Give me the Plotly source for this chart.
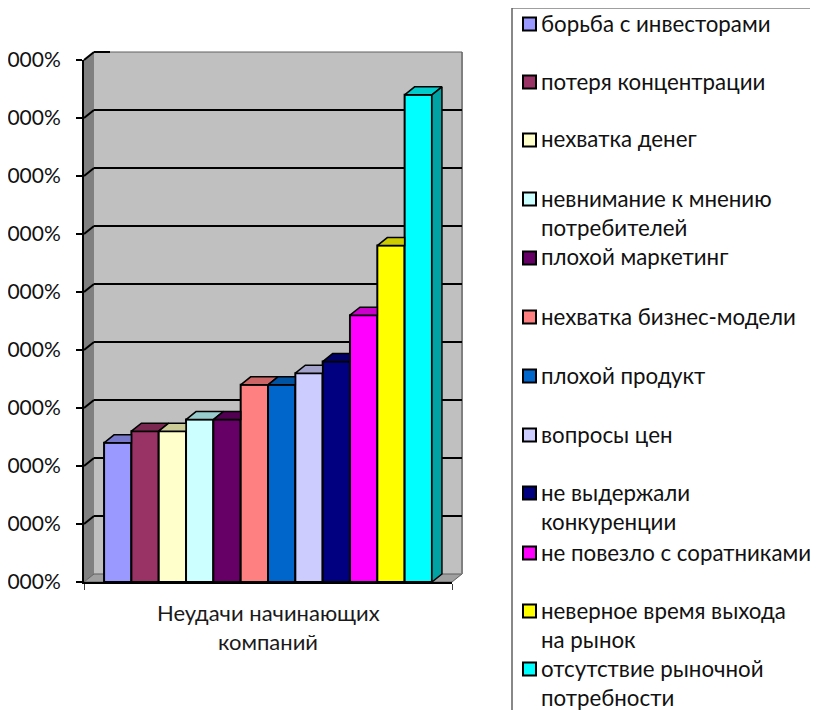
import plotly.graph_objects as go

categories = ['борьба с инвесторами', 'потеря концентрации', 'нехватка денег',
              'невнимание к мнению потребителей', 'плохой маркетинг', 'нехватка бизнес-модели',
              'плохой продукт', 'вопросы цен', 'не выдержали конкуренции',
              'не повезло с соратниками', 'неверное время выхода на рынок',
              'отсутствие рыночной потребности']
values = [12, 13, 13, 14, 14, 17, 17, 18, 19, 23, 29, 42]
colors = ['#9999FF', '#993366', '#FFFFCC', '#CCFFFF', '#660066', '#FF8080',
          '#0066CC', '#CCCCFF', '#000080', '#FF00FF', '#FFFF00', '#00FFFF']
top_colors = ['#7777CC', '#7A2850', '#CCCC99', '#99CCCC', '#520052', '#CC6666',
              '#0052A3', '#A3A3CC', '#000066', '#CC00CC', '#CCCC00', '#00CCCC']
tick_vals = [0, 5, 10, 15, 20, 25, 30, 35, 40, 45]
tick_text = ['000%'] * 10
x_title_lines = ['Неудачи начинающих', 'компаний']
# строки легенды и их положение по вертикали
legend_lines = [['борьба с инвесторами'], ['потеря концентрации'], ['нехватка денег'],
                ['невнимание к мнению', 'потребителей'], ['плохой маркетинг'],
                ['нехватка бизнес-модели'], ['плохой продукт'], ['вопросы цен'],
                ['не выдержали', 'конкуренции'], ['не повезло с соратниками'],
                ['неверное время выхода', 'на рынок'], ['отсутствие рыночной', 'потребности']]
legend_y = [24, 82, 140, 199, 258, 317, 376, 435, 493, 553, 611, 669]

FONT = 'Lato'
OFF = 8  # страница сдвигает график на 8 пикселей (отступ body)
W, H = 818 - OFF, 710 - OFF
L, R, T, B = 84, 452, 60, 582
DX, DY = 10, 8  # глубина "3D" в пикселях
bargap = 0.109

def px(x):
    return (x - L) / (R - L)

def py(y):
    return (B - y) / (B - T)

fig = go.Figure()

bar_w = (1 - bargap) / len(values)
x0 = -0.5 + bargap / 2
dx_u = DX / (R - L)
dy_u = DY * 45 / (B - T)

for name, val, col in zip(categories, values, colors):
    fig.add_trace(go.Bar(x=[0], y=[val], name=name, marker=dict(color=col, line=dict(color='black', width=2)),
                         showlegend=False))

# верх и бок столбиков
for i, val in enumerate(values):
    xl = x0 + i * bar_w
    xr = xl + bar_w
    nxt = values[i + 1] if i + 1 < len(values) else None
    if nxt is not None and nxt > val:
        xs = [xl, xl + dx_u, xr, xr, xl]
        ys = [val, val + dy_u, val + dy_u, val, val]
    else:
        xs = [xl, xl + dx_u, xr + dx_u, xr, xl]
        ys = [val, val + dy_u, val + dy_u, val, val]
    fig.add_trace(go.Scatter(x=xs, y=ys, mode='lines', fill='toself', fillcolor=top_colors[i],
                             line=dict(color='black', width=1.5), hoverinfo='skip', showlegend=False))
    if nxt is None:
        fig.add_trace(go.Scatter(x=[xr, xr + dx_u, xr + dx_u, xr, xr], y=[0, dy_u, val + dy_u, val, 0],
                                 mode='lines', fill='toself', fillcolor='#00A3A3',
                                 line=dict(color='black', width=1.5), hoverinfo='skip', showlegend=False))

shapes = []

def poly(pts, fill, line_col, lw):
    path = 'M ' + ' L '.join(f'{px(a):.5f} {py(b):.5f}' for a, b in pts) + ' Z'
    shapes.append(dict(type='path', xref='paper', yref='paper', path=path, fillcolor=fill,
                       line=dict(color=line_col, width=lw), layer='below'))

def seg(x1, y1, x2, y2, col, lw):
    shapes.append(dict(type='line', xref='paper', yref='paper', x0=px(x1), y0=py(y1), x1=px(x2), y1=py(y2),
                       line=dict(color=col, width=lw), layer='below'))

# стены и пол
poly([(L + DX, T - DY), (R + DX, T - DY), (R + DX, B - DY), (L + DX, B - DY)], '#C0C0C0', '#C0C0C0', 0)
poly([(L, B), (L + DX, B - DY), (L + DX, T - DY), (L, T)], '#808080', '#808080', 0)
poly([(L, B), (L + DX, B - DY), (R + DX, B - DY), (R, B)], '#A0A0A0', '#606060', 1)
seg(R + DX, T - DY, R + DX, B - DY, '#808080', 2)

for v in tick_vals:
    y = B - v * (B - T) / 45
    if v == 0:
        continue
    if v == 45:
        seg(L + DX, y - DY, R + DX, y - DY, '#606060', 1)
        seg(L + DX, y - DY, L + 26, y - DY, 'black', 2)
        seg(L, y, L + DX, y - DY, 'black', 2)
    else:
        seg(L + DX, y - DY, R + DX, y - DY, 'black', 2)
        seg(L, y, L + DX, y - DY, 'black', 2)

# рамка легенды: видны только верх и левый край
seg(512, 8, 818, 8, '#404040', 1)
seg(512, 8, 512, 710, '#606060', 1.5)

annotations = []
for i, y in enumerate(x_title_lines):
    annotations.append(dict(xref='paper', yref='paper', x=px(268), y=py(612 + i * 29), text=y, showarrow=False,
                            xanchor='center', yanchor='middle', font=dict(family=FONT, size=22, color='#1a1a1a')))

for lines, y, col in zip(legend_lines, legend_y, colors):
    shapes.append(dict(type='rect', xref='paper', yref='paper', x0=px(523), x1=px(536), y0=py(y + 6.5), y1=py(y - 6.5),
                       fillcolor=col, line=dict(color='black', width=2), layer='above'))
    for j, txt in enumerate(lines):
        annotations.append(dict(xref='paper', yref='paper', x=px(539), y=py(y - 1 + j * 29), text=txt, showarrow=False,
                                xanchor='left', yanchor='middle', font=dict(family=FONT, size=22.3, color='#111111')))

fig.update_layout(
    width=W, height=H,
    margin=dict(l=L - OFF, r=818 - R, t=T - OFF, b=710 - B, autoexpand=False),
    paper_bgcolor='white', plot_bgcolor='rgba(0,0,0,0)',
    barmode='group', bargap=bargap, bargroupgap=0,
    shapes=shapes, annotations=annotations, showlegend=False,
    xaxis=dict(range=[-0.5, 0.5], tickmode='array', tickvals=[-0.5, 0.5], ticktext=['', ''], ticks='outside',
               ticklen=6, tickcolor='#404040', tickwidth=1, showgrid=False, zeroline=False,
               showline=True, linecolor='black', linewidth=2),
    yaxis=dict(range=[0, 45], tickmode='array', tickvals=tick_vals, ticktext=tick_text, ticks='outside',
               ticklen=6, tickcolor='black', tickwidth=2, showgrid=False, zeroline=False, ticklabelstandoff=11,
               showline=True, linecolor='black', linewidth=2, tickfont=dict(family=FONT, size=21, color='#111111')),
)

fig.write_html("out.html")
